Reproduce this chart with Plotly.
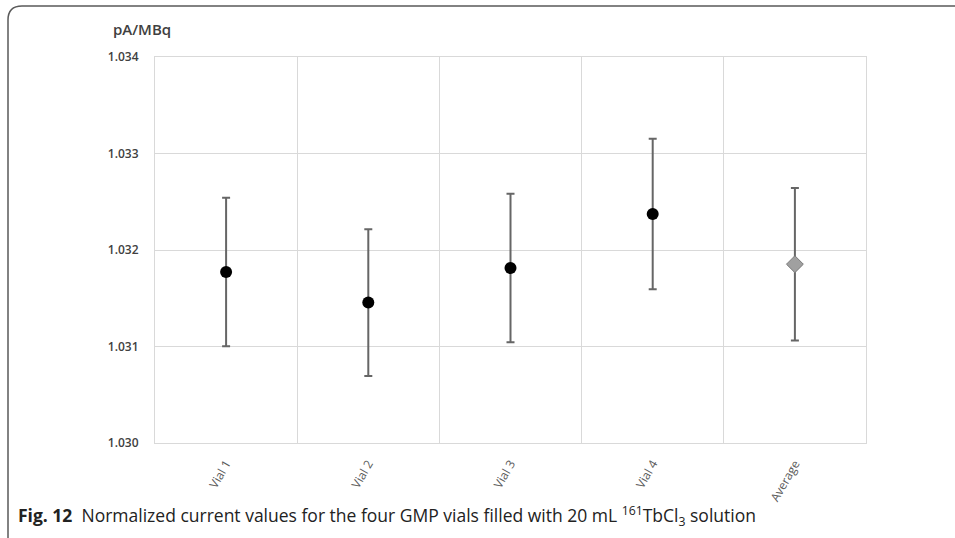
import plotly.graph_objects as go

# ---- data ----
vial_labels = ["Vial 1", "Vial 2", "Vial 3", "Vial 4"]
vial_values = [1.031772, 1.031455, 1.031814, 1.032372]
vial_errors = [0.00077, 0.00076, 0.00077, 0.00078]
avg_label = ["Average"]
avg_value = [1.031853]
avg_error = [0.00079]
all_categories = vial_labels + avg_label
y_ticks = [1.030, 1.031, 1.032, 1.033, 1.034]
y_title = "pA/MBq"
caption = ("<b>Fig. 12</b>  Normalized current values for the four GMP vials filled with 20 mL "
           "<sup>161</sup>TbCl<sub>3</sub> solution")

W, H = 955, 538
L, T = 155, 57
R = W - 866
B = H - 443
pw, ph = W - L - R, H - T - B

def px(x):
    return (x - L) / pw

def py(y):
    return (H - B - y) / ph

fig = go.Figure()
fig.add_trace(go.Scatter(
    x=vial_labels, y=vial_values, mode="markers",
    marker=dict(symbol="circle", size=12, color="black"),
    error_y=dict(type="data", array=vial_errors, visible=True,
                 color="#666666", thickness=2, width=4),
    showlegend=False))
fig.add_trace(go.Scatter(
    x=avg_label, y=avg_value, mode="markers",
    marker=dict(symbol="diamond", size=13, color="#a0a0a0",
                line=dict(color="#7a7a7a", width=1)),
    error_y=dict(type="data", array=avg_error, visible=True,
                 color="#666666", thickness=2, width=4),
    showlegend=False))

fig.update_xaxes(type="category", categoryorder="array", categoryarray=all_categories,
                 range=[-0.5, 4.5], tickson="boundaries", showgrid=True,
                 gridcolor="#d9d9d9", gridwidth=1, showline=True, linecolor="#d9d9d9",
                 mirror=True, ticks="", tickangle=-60, ticklabelstandoff=8,
                 tickfont=dict(family="Open Sans", size=12, color="#595959"))
fig.update_yaxes(range=[1.030, 1.034], tickvals=y_ticks,
                 ticktext=[f"{v:.3f}" for v in y_ticks],
                 showgrid=True, gridcolor="#d9d9d9", gridwidth=1,
                 showline=True, linecolor="#d9d9d9", mirror=True, zeroline=False,
                 ticks="", ticklabelstandoff=13,
                 tickfont=dict(family="Open Sans", size=12, color="#404040", weight=600))

r = 14
border_path = (f"M {px(8)},{py(560)} L {px(8)},{py(6 + r)} "
               f"Q {px(8)},{py(6)} {px(8 + r)},{py(6)} L {px(980)},{py(6)}")

fig.update_layout(
    width=W, height=H,
    margin=dict(l=L, r=R, t=T, b=B),
    paper_bgcolor="white", plot_bgcolor="white",
    shapes=[dict(type="path", xref="paper", yref="paper", path=border_path,
                 line=dict(color="#5a5a5a", width=1.5))],
    annotations=[
        dict(text=y_title, xref="paper", yref="paper", x=px(111), y=py(29),
             xanchor="left", yanchor="middle", showarrow=False,
             font=dict(family="Open Sans", size=15, color="#404040", weight=600)),
        dict(text=caption, xref="paper", yref="paper", x=px(16), y=py(516),
             xanchor="left", yanchor="middle", showarrow=False,
             font=dict(family="Open Sans", size=17.5, color="#222222")),
    ],
)

fig.write_html("out.html", config={"displayModeBar": False},
               post_script="document.body.style.margin='0';document.body.style.padding='0';")
